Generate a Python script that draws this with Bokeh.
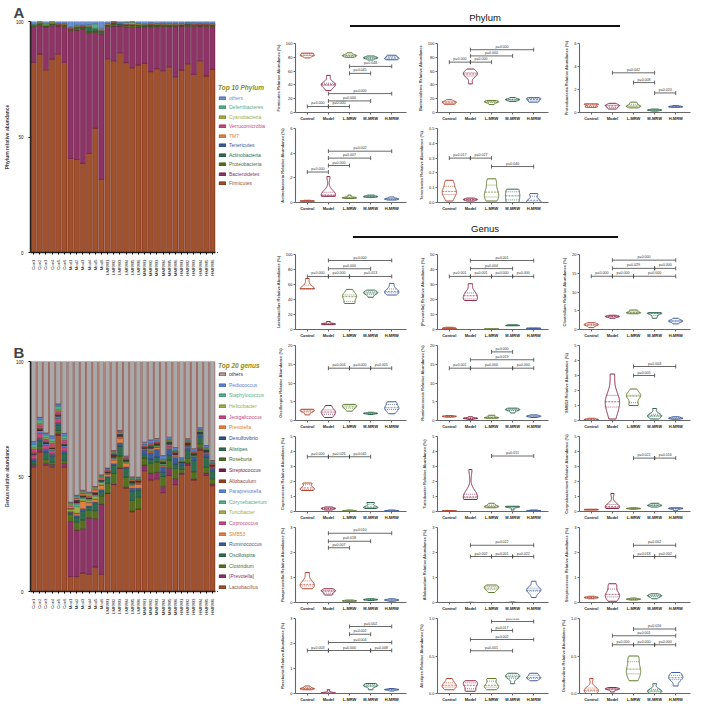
import numpy as np
from bokeh.plotting import figure
from bokeh.models import (ColumnDataSource, FactorRange, Range1d, Legend, LegendItem,
                          FixedTicker, PrintfTickFormatter, Div, Spacer)
from bokeh.layouts import row, column
from bokeh.embed import file_html
from bokeh.resources import INLINE
from bokeh.core.properties import value

FONT = "Liberation Sans"

# ---------------- sample / group labels ----------------
sample_labels = (["Con%d" % i for i in range(1, 7)] + ["Mod%d" % i for i in range(1, 7)] +
                 ["LMRW%d" % i for i in range(1, 7)] + ["MMRW%d" % i for i in range(1, 7)] +
                 ["HMRW%d" % i for i in range(1, 7)])
groups = ["Control", "Model", "L-MRW", "M-MRW", "H-MRW"]
group_colors = ["#b5452f", "#8a2846", "#5f7a2e", "#2f6b50", "#3e5c9c"]

# ---------------- phylum relative abundance (%) per sample ----------------
firmicutes = [82.3, 85.9, 79.1, 83.7, 86.0, 82.3, 40.7, 40.3, 38.6, 42.9, 53.8, 31.7,
              83.9, 83.0, 86.5, 82.2, 80.0, 81.2, 81.9, 78.3, 79.6, 78.7, 80.4, 76.1,
              79.0, 81.7, 77.1, 83.0, 76.4, 79.3]
bacteroidetes = [15.5, 12.3, 18.5, 14.5, 12.0, 15.5, 55.5, 56.0, 58.0, 52.0, 41.5, 63.0,
                 14.0, 15.0, 11.5, 15.5, 17.5, 16.5, 16.0, 19.5, 18.3, 19.2, 17.5, 21.8,
                 19.0, 16.2, 20.8, 15.0, 21.5, 18.6]
proteobacteria = [0.45, 0.75, 0.5, 0.7, 0.55, 0.72, 0.3, 0.8, 0.55, 0.6, 0.4, 0.65,
                  0.4, 0.9, 0.6, 0.55, 0.75, 0.5, 0.12, 0.25, 0.2, 0.3, 0.18, 0.22,
                  0.45, 0.6, 0.52, 0.48, 0.55, 0.5]
actinobacteria = [0.10, 0.15, 0.12, 0.18, 0.14, 0.11, 0.5, 0.55, 0.62, 2.1, 0.9, 0.6,
                  0.32, 0.6, 0.38, 0.42, 0.35, 0.4, 0.42, 0.6, 0.48, 0.5, 0.45, 0.55,
                  0.2, 0.45, 0.3, 0.28, 0.35, 0.25]
tenericutes = [0.01, 0.15, 0.07, 0.05, 0.12, 0.08, 0.01, 0.03, 0.02, 0.015, 0.025, 0.02,
               0.01, 0.16, 0.06, 0.08, 0.13, 0.03, 0.0, 0.09, 0.05, 0.01, 0.08, 0.04,
               0.0, 0.06, 0.01, 0.05, 0.0, 0.02]
tm7 = [0.02, 0.03, 0.01, 0.02, 0.02, 0.03, 0.05, 0.04, 0.06, 0.05, 0.04, 0.05,
       0.02, 0.02, 0.03, 0.02, 0.01, 0.02, 0.03, 0.02, 0.02, 0.03, 0.02, 0.02,
       0.02, 0.03, 0.02, 0.02, 0.03, 0.02]
verrucomicrobia = [0.10, 0.12, 0.08, 0.10, 0.09, 0.11, 0.20, 0.15, 0.18, 0.22, 0.16, 0.20,
                   0.08, 0.10, 0.09, 0.12, 0.10, 0.08, 0.10, 0.12, 0.09, 0.10, 0.11, 0.10,
                   0.09, 0.10, 0.12, 0.08, 0.10, 0.11]
cyanobacteria = [0.3, 0.4, 0.5, 0.6, 0.3, 0.4, 0.2, 0.3, 0.2, 0.3, 0.2, 0.3,
                 0.5, 0.4, 0.3, 0.6, 0.9, 0.5, 0.3, 0.4, 0.3, 0.4, 0.3, 0.3,
                 0.4, 0.3, 0.4, 0.3, 0.4, 0.3]
deferribacteres = [0.1, 0.1, 0.2, 0.1, 0.1, 0.1, 0.3, 0.4, 0.3, 0.5, 2.0, 0.6,
                   0.1, 0.1, 0.1, 0.2, 0.1, 0.1, 0.1, 0.2, 0.1, 0.1, 0.2, 0.1,
                   0.1, 0.1, 0.2, 0.1, 0.1, 0.1]

# ---------------- genus relative abundance (%) per sample ----------------
lactobacillus = [54.2, 60.7, 54.9, 54.2, 68.0, 54.2, 6.5, 6.5, 8.0, 7.5, 10.7, 7.5,
                 42.6, 46.5, 53.5, 45.0, 34.7, 35.8, 52.5, 48.5, 49.0, 43.0, 50.5, 46.5,
                 51.0, 55.0, 48.5, 61.5, 50.5, 46.0]
prevotella_br = [0.6, 1.2, 0.8, 1.0, 0.5, 1.5, 24.0, 20.2, 19.3, 24.5, 21.0, 30.5,
                 0.2, 0.3, 0.25, 0.35, 0.3, 0.2, 2.5, 3.0, 2.8, 2.7, 3.1, 2.6,
                 0.6, 0.9, 0.5, 0.8, 1.0, 0.7]
clostridium = [0.5, 1.2, 1.8, 1.0, 1.5, 1.3, 3.0, 3.4, 3.8, 3.3, 3.5, 3.6,
               4.2, 4.5, 5.2, 4.4, 4.6, 5.0, 3.0, 4.2, 4.5, 4.3, 3.6, 4.4,
               1.5, 2.2, 3.0, 2.0, 2.5, 2.3]
oscillospira = [1.5, 2.5, 3.0, 2.6, 2.2, 3.0, 0.8, 2.3, 4.0, 1.5, 3.0, 2.2,
                2.5, 3.5, 4.3, 3.8, 4.2, 3.2, 1.6, 1.9, 2.2, 1.8, 2.0, 1.9,
                1.8, 3.3, 5.0, 2.8, 4.5, 3.5]
ruminococcus = [0.9, 1.1, 1.3, 1.0, 1.2, 1.1, 0.3, 0.6, 1.0, 0.5, 0.7, 0.6,
                0.6, 0.8, 1.4, 0.7, 1.2, 0.8, 2.0, 2.8, 3.3, 2.6, 3.1, 2.9,
                0.8, 1.1, 1.5, 1.0, 1.3, 1.2]
smb53 = [0.0, 0.05, 0.15, 0.08, 0.03, 0.1, 0.1, 0.8, 3.1, 1.3, 1.2, 1.8,
         1.0, 1.6, 2.1, 1.7, 1.05, 1.65, 0.1, 0.35, 0.8, 0.3, 0.45, 0.25,
         0.05, 0.15, 0.25, 0.12, 0.2, 0.15]
coprococcus = [1.4, 1.9, 1.6, 1.45, 1.85, 1.55, 0.1, 0.3, 0.2, 0.25, 0.15, 0.2,
               0.0, 0.1, 0.03, 0.05, 0.02, 0.06, 0.2, 0.6, 0.3, 0.25, 0.55, 0.3,
               0.0, 0.1, 0.05, 0.03, 0.07, 0.04]
turicibacter = [0.02, 0.06, 0.04, 0.03, 0.05, 0.04, 0.8, 2.8, 1.0, 0.9, 1.2, 0.95,
                0.25, 0.55, 0.35, 0.3, 0.45, 0.35, 0.1, 0.35, 0.3, 0.32, 0.28, 0.33,
                0.03, 0.1, 0.05, 0.06, 0.08, 0.05]
corynebacterium = [0.1, 0.15, 0.12, 0.13, 0.11, 0.14, 0.2, 1.2, 0.35, 0.3, 0.5, 0.25,
                   0.15, 0.25, 0.2, 0.18, 0.22, 0.2, 0.3, 0.55, 0.4, 0.38, 0.5, 0.42,
                   0.05, 0.25, 0.2, 0.15, 0.22, 0.2]
paraprevotella = [0.55, 1.2, 0.75, 0.7, 0.9, 0.65, 0.3, 0.55, 0.45, 0.5, 0.35, 0.45,
                  0.03, 0.1, 0.06, 0.05, 0.08, 0.07, 0.08, 0.15, 0.12, 0.1, 0.13, 0.11,
                  0.05, 0.15, 0.1, 0.08, 0.12, 0.1]
allobaculum = [0.0, 0.0, 0.0, 0.0, 0.0, 0.0, 0.0, 0.01, 0.0, 0.0, 0.005, 0.0,
               0.4, 0.7, 0.55, 0.5, 0.65, 0.6, 0.0, 0.02, 0.0, 0.01, 0.0, 0.0,
               0.2, 0.85, 0.48, 0.45, 0.6, 0.5]
streptococcus = [0.15, 0.25, 0.2, 0.18, 0.22, 0.2, 0.05, 0.75, 0.3, 0.2, 0.6, 0.35,
                 0.1, 0.18, 0.13, 0.12, 0.15, 0.14, 0.15, 0.35, 0.25, 0.22, 0.3, 0.28,
                 0.0, 0.0, 0.0, 0.0, 0.0, 0.0]
roseburia = [0.15, 0.3, 0.2, 0.18, 0.25, 0.2, 0.0, 0.15, 0.02, 0.01, 0.03, 0.02,
             0.0, 0.0, 0.0, 0.0, 0.0, 0.0, 0.15, 0.4, 0.3, 0.28, 0.38, 0.32,
             0.1, 0.2, 0.15, 0.14, 0.17, 0.16]
alistipes = [0.05, 0.2, 0.1, 0.08, 0.15, 0.12, 0.03, 0.17, 0.12, 0.05, 0.15, 0.1,
             0.05, 0.2, 0.12, 0.1, 0.18, 0.08, 0.13, 0.27, 0.22, 0.2, 0.25, 0.23,
             0.17, 0.27, 0.21, 0.2, 0.25, 0.22]
desulfovibrio = [0.0, 0.2, 0.05, 0.03, 0.08, 0.04, 0.02, 0.08, 0.06, 0.05, 0.07, 0.06,
                 0.17, 0.5, 0.35, 0.3, 0.45, 0.25, 0.0, 0.13, 0.03, 0.02, 0.06, 0.04,
                 0.1, 0.28, 0.2, 0.18, 0.25, 0.22]
prevotella = [0.4, 0.5, 0.3, 0.5, 0.4, 0.4, 0.9, 0.7, 0.8, 0.6, 1.0, 0.8,
              0.4, 0.3, 0.5, 0.3, 0.4, 0.3, 0.3, 0.2, 0.3, 0.2, 0.3, 0.2,
              0.2, 0.3, 0.2, 0.3, 0.2, 0.2]
jeotgalicoccus = [1.5, 1.2, 1.0, 1.5, 1.3, 1.4, 0.3, 0.2, 0.3, 0.2, 0.3, 0.2,
                  0.2, 0.3, 0.2, 0.2, 0.3, 0.2, 0.3, 0.4, 0.3, 0.3, 0.2, 0.3,
                  0.2, 0.2, 0.3, 0.2, 0.2, 0.3]
helicobacter = [0.5, 0.4, 0.6, 0.5, 0.4, 0.5, 0.6, 0.5, 0.4, 0.8, 0.5, 0.4,
                0.2, 0.2, 0.3, 0.2, 0.2, 0.3, 0.2, 0.2, 0.2, 0.3, 0.2, 0.2,
                0.2, 0.2, 0.2, 0.2, 0.2, 0.2]
staphylococcus = [1.5, 1.6, 1.2, 1.4, 1.5, 1.3, 0.4, 0.3, 0.4, 0.3, 0.4, 0.3,
                  0.3, 0.3, 0.2, 0.3, 0.3, 0.2, 0.3, 0.3, 0.4, 0.3, 0.3, 0.3,
                  0.3, 0.3, 0.3, 0.3, 0.3, 0.3]
pediococcus = [1.2, 1.0, 0.8, 1.1, 0.9, 1.0, 0.4, 0.3, 0.4, 0.4, 0.3, 0.4,
               0.3, 0.4, 0.3, 0.3, 0.4, 0.3, 1.0, 1.2, 0.8, 1.5, 0.9, 1.0,
               0.8, 0.6, 0.9, 0.7, 0.8, 0.6]

# ---------------- stack definitions (bottom -> top) ----------------
phylum_names = ["Firmicutes", "Bacteroidetes", "Proteobacteria", "Actinobacteria", "Tenericutes",
                "TM7", "Verrucomicrobia", "Cyanobacteria", "Deferribacteres", "others"]
phylum_fill = ["#a0522d", "#8e3366", "#55701f", "#2f6b4e", "#3b5b9a",
               "#e3803e", "#c4487f", "#9fae45", "#55ae8c", "#6a8fd2"]
phylum_line = ["#6e1e10", "#5e1a40", "#3a4f12", "#1d4a33", "#263f70",
               "#b05a20", "#8e2c5a", "#6f7c28", "#357a5e", "#3e62a8"]
phylum_text = phylum_fill

genus_names = ["Lactobacillus", "[Prevotella]", "Clostridium", "Oscillospira", "Ruminococcus",
               "SMB53", "Coprococcus", "Turicibacter", "Corynebacterium", "Paraprevotella",
               "Allobaculum", "Streptococcus", "Roseburia", "Alistipes", "Desulfovibrio",
               "Prevotella", "Jeotgalicoccus", "Helicobacter", "Staphylococcus", "Pediococcus", "others"]
genus_fill = ["#a0522d", "#8e3366", "#55701f", "#2f6b4e", "#3b5b9a",
              "#e3803e", "#c4487f", "#9fae45", "#55ae8c", "#5b82cc",
              "#96401f", "#7a1f3d", "#4f6b22", "#2f6b4e", "#2f4f8a",
              "#e3803e", "#c4487f", "#9fae45", "#55ae8c", "#5b82cc", "#a9a9a9"]
genus_line = ["#6e1e10", "#5e1a40", "#3a4f12", "#1d4a33", "#263f70",
              "#b05a20", "#8e2c5a", "#6f7c28", "#357a5e", "#3e62a8",
              "#6a2a10", "#50122a", "#344a14", "#1d4a33", "#1d3360",
              "#b05a20", "#8e2c5a", "#6f7c28", "#357a5e", "#3e62a8", "#7a2a1c"]
genus_text = genus_fill[:-1] + ["#333333"]

phylum_series = [firmicutes, bacteroidetes, proteobacteria, actinobacteria, tenericutes,
                 tm7, verrucomicrobia, cyanobacteria, deferribacteres]
genus_series = [lactobacillus, prevotella_br, clostridium, oscillospira, ruminococcus,
                smb53, coprococcus, turicibacter, corynebacterium, paraprevotella,
                allobaculum, streptococcus, roseburia, alistipes, desulfovibrio,
                prevotella, jeotgalicoccus, helicobacter, staphylococcus, pediococcus]


def remainder(series):
    tot = np.sum(np.array(series), axis=0)
    return list(np.clip(100.0 - tot, 0, None))


phylum_series = phylum_series + [remainder(phylum_series)]
genus_series = genus_series + [remainder(genus_series)]


def style_axes(p, fs="4.5px"):
    p.xgrid.visible = False
    p.ygrid.visible = False
    p.outline_line_color = None
    for ax in (p.xaxis[0], p.yaxis[0]):
        ax.major_label_text_font = FONT
        ax.axis_label_text_font = FONT
        ax.major_label_text_font_size = fs
        ax.major_label_text_color = "#222222"
        ax.minor_tick_line_color = None
        ax.major_tick_in = 0


FIG_H = 340
TOP = 20


def make_stack(title, names, fills, lines, series, ylabel, bottom):
    keys = ["s%d" % i for i in range(len(names))]
    data = {"sample": sample_labels}
    for k, s in zip(keys, series):
        data[k] = list(s)
    src = ColumnDataSource(data)
    p = figure(width=217, height=FIG_H, x_range=FactorRange(factors=sample_labels, range_padding=0.0),
               y_range=Range1d(0, 100), output_backend="svg", toolbar_location=None,
               min_border_left=20, min_border_right=2, min_border_top=TOP,
               min_border_bottom=bottom)
    p.title.text = title
    p.title.text_font = FONT
    p.title.text_font_size = "15px"
    p.title.text_font_style = "bold"
    p.title.offset = -17
    p.title.standoff = 2
    p.vbar_stack(keys, x="sample", width=0.86, fill_color=fills, line_color=lines,
                 line_width=0.6, source=src)
    style_axes(p)
    p.yaxis.ticker = FixedTicker(ticks=[0, 50, 100])
    p.yaxis.axis_label = ylabel
    p.yaxis.axis_label_text_font_size = "5px"
    p.yaxis.axis_label_text_font_style = "bold"
    p.yaxis.axis_label_standoff = 3
    p.xaxis.major_label_orientation = np.pi / 2
    p.xaxis.major_label_text_font_size = "4.3px"
    p.axis.axis_line_width = 1.5
    p.axis.axis_line_color = "#222222"
    p.axis.major_tick_out = 2
    return p


def make_legend(names, fills, lines, texts, legend_title, first, step, bottom, standoff):
    # separate panel (its frame is aligned with the bar chart's frame in the row) holding
    # one legend per item so that each label keeps its own colour
    frame_h = FIG_H - TOP - bottom
    p = figure(width=50, height=FIG_H, x_range=Range1d(0, 1), y_range=Range1d(0, 1),
               output_backend="svg", toolbar_location=None, x_axis_location=None,
               y_axis_location=None, min_border_left=0, min_border_right=0,
               min_border_top=TOP, min_border_bottom=bottom)
    p.xgrid.visible = False
    p.ygrid.visible = False
    p.outline_line_color = None
    n = len(names)
    for rank in range(n):
        idx = n - 1 - rank
        # swatch renderer kept outside the visible range: only its legend glyph shows
        r = p.vbar(x=[-10], top=[0], width=0.5, fill_color=fills[idx], line_color=lines[idx],
                   line_width=0.8)
        yc = first + rank * step
        leg = Legend(items=[LegendItem(label=names[idx], renderers=[r])],
                     location=(1, frame_h - yc - 3),
                     label_text_font=FONT, label_text_font_size="5px",
                     label_text_color=texts[idx],
                     glyph_width=8, glyph_height=4, label_standoff=3, label_height=5,
                     padding=0, margin=0, spacing=0, border_line_alpha=0,
                     background_fill_alpha=0)
        if rank == 0:
            leg.title = legend_title
            leg.title_text_font = FONT
            leg.title_text_font_size = "6.5px"
            leg.title_text_font_style = "bold italic"
            leg.title_text_color = "#8c8c1a"
            leg.title_standoff = standoff
        p.add_layout(leg)
    return p


figA = make_stack("A", phylum_names, phylum_fill, phylum_line, phylum_series,
                  "Phylum relative abundance", 88)
legA = make_legend(phylum_names, phylum_fill, phylum_line, phylum_text, "Top 10 Phylum",
                   78, 9.45, 88, 4)
figB = make_stack("B", genus_names, genus_fill, genus_line, genus_series,
                  "Genus relative abundance", 89)
legB = make_legend(genus_names, genus_fill, genus_line, genus_text, "Top 20 genus",
                   14, 10.65, 89, 2)


# ---------------- violin panels ----------------
def violin_shape(vals):
    v = np.asarray(vals, float)
    lo, hi = v.min(), v.max()
    if hi - lo < 1e-9:
        return None
    sd = v.std(ddof=1)
    h = 0.55 * sd
    ys = np.linspace(lo, hi, 80)
    d = np.exp(-0.5 * ((ys[:, None] - v[None, :]) / h) ** 2).sum(axis=1)
    w = 0.34 * d / d.max()
    return ys, w


def violin_panel(ylabel, series, ymax, ticks, fmt, sig, height):
    p = figure(width=142, height=height, x_range=Range1d(-0.56, 4.7), y_range=Range1d(0, ymax),
               output_backend="svg", toolbar_location=None,
               min_border_left=28, min_border_right=3, min_border_top=5, min_border_bottom=11)
    xs, ys, cols = [], [], []
    sx0, sx1, sy, scol, sdash = [], [], [], [], []
    for gi in range(5):
        vals = series[gi * 6:(gi + 1) * 6]
        shp = violin_shape(vals)
        if shp is None:
            continue
        yy, w = shp
        xs.append(list(np.concatenate([gi - w, (gi + w)[::-1]])))
        ys.append(list(np.concatenate([yy, yy[::-1]])))
        cols.append(group_colors[gi])
        q1, med, q3 = np.percentile(vals, [25, 50, 75])
        for q, dash in ((q1, "dotted"), (med, "dashed"), (q3, "dotted")):
            ww = float(np.interp(q, yy, w))
            sx0.append(gi - ww)
            sx1.append(gi + ww)
            sy.append(q)
            scol.append(group_colors[gi])
            sdash.append(dash)
    p.patches(xs=xs, ys=ys, fill_color="white", line_color=cols, line_width=1.0)
    for dash, pattern in (("dashed", "2 1"), ("dotted", "1 1")):
        sel = [i for i in range(len(sy)) if sdash[i] == dash]
        if sel:
            p.segment(x0=[sx0[i] for i in sel], x1=[sx1[i] for i in sel],
                      y0=[sy[i] for i in sel], y1=[sy[i] for i in sel],
                      line_color=[scol[i] for i in sel], line_width=0.7, line_dash=pattern)
    if sig:
        a = [s[0] for s in sig]
        b = [s[1] for s in sig]
        yv = [s[2] for s in sig]
        lab = [s[3] for s in sig]
        p.segment(x0=a, x1=b, y0=yv, y1=yv, line_color="#444444", line_width=0.8)
        p.scatter(x=a + b, y=yv + yv, marker="dash", angle=np.pi / 2, size=4,
                  line_color="#444444", line_width=0.8)
        p.text(x=[(i + j) / 2 for i, j in zip(a, b)], y=yv, text=lab, text_font=value(FONT),
               text_font_size="3.6px", text_align="center", text_baseline="bottom",
               y_offset=-1, text_color="#333333")
    style_axes(p, "4px")
    p.xaxis.ticker = FixedTicker(ticks=[0, 1, 2, 3, 4])
    p.xaxis.major_label_overrides = {i: g for i, g in enumerate(groups)}
    p.xaxis.major_label_text_font_style = "bold"
    p.yaxis.ticker = FixedTicker(ticks=ticks)
    p.yaxis.formatter = PrintfTickFormatter(format=fmt)
    p.yaxis.axis_label = ylabel
    p.yaxis.axis_label_text_font_size = "4px"
    p.yaxis.axis_label_text_font_style = "bold"
    p.yaxis.axis_label_standoff = 2
    p.axis.axis_line_color = "#666666"
    p.axis.axis_line_width = 1.1
    p.axis.major_tick_line_color = "#666666"
    p.axis.major_tick_out = 2
    p.axis.major_label_standoff = 1
    return p


# significance annotations: (group a, group b, height, label)
sig_firmicutes = [(0, 1, 8.7, "p=0.000"), (1, 2, 8.7, "p=0.000"), (1, 3, 16.8, "p=0.000"),
                  (1, 4, 27.4, "p=0.000"), (2, 3, 56.7, "p=0.045"), (2, 4, 66.8, "p=0.048")]
sig_bacteroidetes = [(0, 1, 73, "p=0.000"), (1, 2, 73, "p=0.000"), (1, 3, 82, "p=0.000"),
                     (1, 4, 91, "p=0.000")]
sig_proteobacteria = [(1, 3, 3.45, "p=0.042"), (2, 3, 2.6, "p=0.008"), (3, 4, 1.7, "p=0.024")]
sig_actinobacteria = [(0, 1, 2.47, "p=0.000"), (1, 2, 3.0, "p=0.000"), (1, 3, 3.6, "p=0.007"),
                      (1, 4, 4.16, "p=0.002")]
sig_tenericutes = [(0, 1, 0.3, "p=0.017"), (1, 2, 0.3, "p=0.027"), (2, 4, 0.243, "p=0.040")]

sig_lactobacillus = [(0, 1, 70.7, "p=0.000"), (1, 2, 70.7, "p=0.000"), (2, 4, 70.7, "p=0.013"),
                     (1, 3, 81, "p=0.000"), (1, 4, 92, "p=0.000")]
sig_prevotella_br = [(0, 1, 35.4, "p=0.001"), (1, 2, 35.4, "p=0.001"), (2, 3, 35.4, "p=0.000"),
                     (3, 4, 35.4, "p=0.000"), (1, 3, 40.6, "p=0.004"), (1, 4, 46, "p=0.001")]
sig_clostridium = [(0, 1, 14.2, "p=0.000"), (1, 2, 14.2, "p=0.000"), (2, 4, 14.2, "p=0.000"),
                   (1, 3, 16.3, "p=0.029"), (3, 4, 16.3, "p=0.000"), (1, 4, 18.5, "p=0.000")]
sig_oscillospira = [(1, 2, 13.95, "p=0.004"), (2, 3, 13.95, "p=0.000"), (3, 4, 13.95, "p=0.005")]
sig_ruminococcus = [(0, 1, 13.95, "p=0.001"), (1, 3, 13.95, "p=0.000"), (3, 4, 13.95, "p=0.000"),
                    (1, 4, 16.2, "p=0.019"), (2, 3, 18.3, "p=0.000")]
sig_smb53 = [(2, 3, 3.0, "p=0.005"), (2, 4, 3.6, "p=0.003")]
sig_coprococcus = [(0, 1, 3.65, "p=0.000"), (1, 2, 3.65, "p=0.026"), (2, 3, 3.65, "p=0.045")]
sig_turicibacter = [(2, 4, 3.7, "p=0.011")]
sig_corynebacterium = [(2, 3, 3.56, "p=0.022"), (3, 4, 3.56, "p=0.016")]
sig_paraprevotella = [(1, 2, 2.19, "p=0.007"), (1, 3, 2.45, "p=0.018"), (1, 4, 2.77, "p=0.010")]
sig_allobaculum = [(1, 2, 1.84, "p=0.002"), (2, 3, 1.84, "p=0.001"), (3, 4, 1.84, "p=0.022"),
                   (1, 4, 2.29, "p=0.022")]
sig_streptococcus = [(2, 3, 1.84, "p=0.018"), (3, 4, 1.84, "p=0.002"), (2, 4, 2.29, "p=0.002")]
sig_roseburia = [(0, 1, 1.72, "p=0.003"), (1, 3, 1.72, "p=0.000"), (3, 4, 1.72, "p=0.048"),
                 (1, 4, 2.04, "p=0.004"), (2, 3, 2.37, "p=0.002"), (2, 4, 2.68, "p=0.002")]
sig_alistipes = [(1, 3, 0.57, "p=0.001"), (1, 4, 0.72, "p=0.002"), (2, 3, 0.84, "p=0.017"),
                 (2, 4, 0.96, "p=0.034")]
sig_desulfovibrio = [(1, 2, 0.65, "p=0.000"), (2, 3, 0.65, "p=0.000"), (3, 4, 0.65, "p=0.000"),
                     (1, 4, 0.77, "p=0.001"), (2, 4, 0.86, "p=0.016")]

t100 = [0, 20, 40, 60, 80, 100]
t50 = [0, 10, 20, 30, 40, 50]
t20 = [0, 5, 10, 15, 20]
t6 = [0, 2, 4, 6]
t5 = [0, 1, 2, 3, 4, 5]
t3 = [0, 1, 2, 3]
t05 = [0, 0.1, 0.2, 0.3, 0.4, 0.5]
t1 = [0, 0.5, 1.0]

r1h, r2h, gh = 85, 90, 91
ph1 = violin_panel("Firmicutes Relative Abundance (%)", firmicutes, 100, t100, "%d", sig_firmicutes, r1h)
ph2 = violin_panel("Bacteroidetes Relative Abundance", bacteroidetes, 100, t100, "%d", sig_bacteroidetes, r1h)
ph3 = violin_panel("Proteobacteria Relative Abundance (%)", proteobacteria, 6, t6, "%d", sig_proteobacteria, r1h)
ph4 = violin_panel("Actinobacteria Relative Abundance (%)", actinobacteria, 6, t6, "%d", sig_actinobacteria, r2h)
ph5 = violin_panel("Tenericutes Relative Abundance (%)", tenericutes, 0.5, t05, "%.1f", sig_tenericutes, r2h)

g1 = violin_panel("Lactobacillus Relative Abundance (%)", lactobacillus, 100, t100, "%d", sig_lactobacillus, gh)
g2 = violin_panel("[Prevotella] Relative Abundance (%)", prevotella_br, 50, t50, "%d", sig_prevotella_br, gh)
g3 = violin_panel("Clostridium Relative Abundance (%)", clostridium, 20, t20, "%d", sig_clostridium, gh)
g4 = violin_panel("Oscillospira Relative Abundance (%)", oscillospira, 20, t20, "%d", sig_oscillospira, gh)
g5 = violin_panel("Ruminococcus Relative Abundance (%)", ruminococcus, 20, t20, "%d", sig_ruminococcus, gh)
g6 = violin_panel("SMB53 Relative Abundance (%)", smb53, 5, t5, "%d", sig_smb53, gh)
g7 = violin_panel("Coprococcus Relative Abundance (%)", coprococcus, 5, t5, "%d", sig_coprococcus, gh)
g8 = violin_panel("Turicibacter Relative Abundance (%)", turicibacter, 5, t5, "%d", sig_turicibacter, gh)
g9 = violin_panel("Corynebacterium Relative Abundance (%)", corynebacterium, 5, t5, "%d", sig_corynebacterium, gh)
g10 = violin_panel("Paraprevotella Relative Abundance (%)", paraprevotella, 3, t3, "%d", sig_paraprevotella, gh)
g11 = violin_panel("Allobaculum Relative Abundance (%)", allobaculum, 3, t3, "%d", sig_allobaculum, gh)
g12 = violin_panel("Streptococcus Relative Abundance (%)", streptococcus, 3, t3, "%d", sig_streptococcus, gh)
g13 = violin_panel("Roseburia Relative Abundance (%)", roseburia, 3, t3, "%d", sig_roseburia, gh)
g14 = violin_panel("Alistipes Relative Abundance (%)", alistipes, 1.0, t1, "%.1f", sig_alistipes, gh)
g15 = violin_panel("Desulfovibrio Relative Abundance (%)", desulfovibrio, 1.0, t1, "%.1f", sig_desulfovibrio, gh)


def header(text, line_w, h, pad):
    html = ('<div style="width:426px;padding-top:%dpx;text-align:center;font-family:\'Liberation Sans\';'
            'font-size:9.5px;color:#111;line-height:10px">%s</div>'
            '<div style="width:%dpx;margin:2px auto 0 auto;border-top:2px solid #111"></div>'
            % (pad, text, line_w))
    return Div(text=html, width=426, height=h)


right = column(
    header("Phylum", 270, 28, 8),
    row(ph1, ph2, ph3),
    row(ph4, ph5, Spacer(width=142, height=r2h)),
    header("Genus", 265, 26, 6),
    row(g1, g2, g3),
    row(g4, g5, g6),
    row(g7, g8, g9),
    row(g10, g11, g12),
    row(g13, g14, g15),
)
left = column(row(figA, legA), row(figB, legB))
layout = row(left, right)

open("out.html", "w").write(file_html(layout, INLINE))
